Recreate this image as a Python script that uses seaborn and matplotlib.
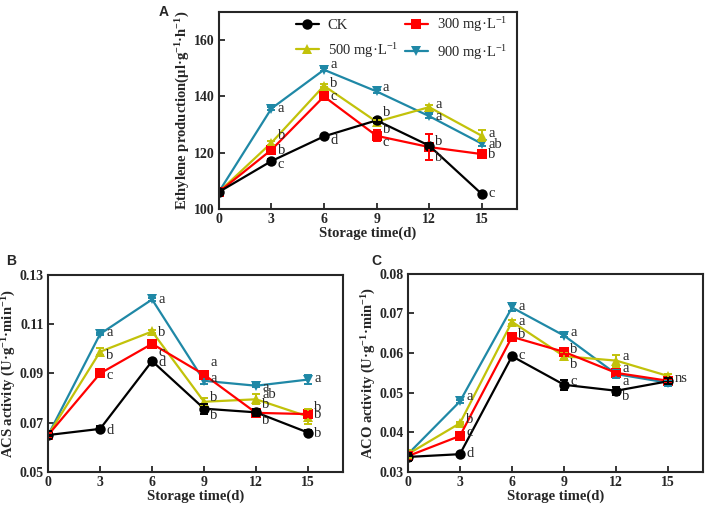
import seaborn as sns
import matplotlib.pyplot as plt
import pandas as pd
import numpy as np
from matplotlib.lines import Line2D

sns.set_style('ticks')
plt.rcParams['font.family'] = ['Liberation Serif', 'DejaVu Serif']
plt.rcParams['mathtext.fontset'] = 'custom'
plt.rcParams['mathtext.rm'] = 'Liberation Serif'
plt.rcParams['mathtext.bf'] = 'Liberation Serif:bold'
plt.rcParams['mathtext.default'] = 'regular'

days = [0, 3, 6, 9, 12, 15]
groups = ['CK', '300', '500', '900']
labels = {'CK': 'CK', '300': '300 mg·L$^{-1}$', '500': '500 mg·L$^{-1}$', '900': '900 mg·L$^{-1}$'}
colors = {'CK': '#000000', '300': '#ff0000', '500': '#c2c20a', '900': '#1f88a6'}
markers = {'CK': 'o', '300': 's', '500': '^', '900': 'v'}

# panel A - ethylene production
eth = {
    'CK':  [106, 117, 125.8, 131.5, 122.5, 105.3],
    '300': [106, 121, 140, 126, 122, 119.5],
    '500': [106, 123.5, 143.8, 131, 136.2, 126],
    '900': [106, 135.7, 149.5, 141.8, 133, 123.2],
}
eth_err = {
    'CK':  [0.8, 0.6, 0.6, 0.8, 1.0, 0.6],
    '300': [0.8, 0.8, 0.8, 2.0, 4.5, 0.6],
    '500': [0.6, 0.6, 0.6, 0.6, 0.6, 2.0],
    '900': [0.6, 0.6, 0.6, 0.6, 0.6, 1.0],
}
eth_let = {
    'CK':  ['', 'c', 'd', 'b', 'b', 'c'],
    '300': ['', 'b', 'c', 'c', 'b', 'b'],
    '500': ['', 'b', 'b', 'b', 'a', 'a'],
    '900': ['', 'a', 'a', 'a', 'a', 'ab'],
}
eth_dy = {
    'CK':  [0, -3, -4, 8, 4, 0],
    '300': [0, -1, 0, -7, -10, 0],
    '500': [0, 7, 2, -8, 3, 2],
    '900': [0, 0, 5, 4, 0, -1],
}

# panel B - ACS activity
acs = {
    'CK':  [0.065, 0.0675, 0.095, 0.0757, 0.0742, 0.066],
    '300': [0.065, 0.090, 0.102, 0.0895, 0.074, 0.0735],
    '500': [0.065, 0.0988, 0.107, 0.0785, 0.0795, 0.0725],
    '900': [0.065, 0.106, 0.120, 0.087, 0.085, 0.0875],
}
acs_err = {
    'CK':  [0.0015, 0.001, 0.001, 0.002, 0.0015, 0.001],
    '300': [0.001, 0.0005, 0.0005, 0.001, 0.0015, 0.001],
    '500': [0.001, 0.0015, 0.0005, 0.0015, 0.002, 0.003],
    '900': [0.001, 0.0005, 0.0005, 0.0015, 0.0005, 0.002],
}
acs_let = {
    'CK':  ['', 'd', 'd', 'b', 'b', 'b'],
    '300': ['', 'c', 'c', 'a', 'b', 'b'],
    '500': ['', 'b', 'b', 'b', 'ab', 'b'],
    '900': ['', 'a', 'a', 'a', 'a', 'a'],
}
acs_dy = {
    'CK':  [0, -2, -1, -7, -8, -1],
    '300': [0, -2, -9, 12, 8, 7],
    '500': [0, -4, -1, 4, 5, 2],
    '900': [0, 1, 0, 2, -2, 1],
}

# panel C - ACO activity
aco = {
    'CK':  [0.0338, 0.0345, 0.0592, 0.052, 0.0505, 0.0529],
    '300': [0.034, 0.0391, 0.0641, 0.0603, 0.055, 0.053],
    '500': [0.0345, 0.0423, 0.0679, 0.0592, 0.0581, 0.0542],
    '900': [0.0345, 0.0478, 0.0715, 0.0644, 0.0547, 0.0525],
}
aco_err = {
    'CK':  [0.001, 0.0003, 0.0003, 0.0012, 0.001, 0.0008],
    '300': [0.001, 0.0003, 0.0008, 0.0005, 0.0005, 0.0005],
    '500': [0.001, 0.0003, 0.0005, 0.0008, 0.0015, 0.0005],
    '900': [0.001, 0.0003, 0.0008, 0.0003, 0.001, 0.0008],
}
aco_let = {
    'CK':  ['', 'd', 'c', 'c', 'b', 'ns'],
    '300': ['', 'c', 'b', 'b', 'a', ''],
    '500': ['', 'b', 'a', 'b', 'a', ''],
    '900': ['', 'a', 'a', 'a', 'a', ''],
}
aco_dy = {
    'CK':  [0, 1, 1, 3, -6, 3],
    '300': [0, 3, 2, 2, 4, 0],
    '500': [0, 4, 0, -8, 4, 0],
    '900': [0, 5, 1, 3, -7, 0],
}


def to_df(vals, errs):
    rows = []
    for g in groups:
        for d, v, e in zip(days, vals[g], errs[g]):
            rows.append([g, d, v, e])
    return pd.DataFrame(rows, columns=['group', 'day', 'value', 'err'])


def draw_panel(ax, vals, errs, lets, dys, ylim, yticks, yfmt, ylabel):
    df = to_df(vals, errs)
    order = ['900', '500', '300', 'CK']
    sns.lineplot(data=df, x='day', y='value', hue='group', style='group',
                 hue_order=order, style_order=order, palette=colors,
                 markers=markers, dashes=False, markersize=7.5, linewidth=1.6,
                 markeredgewidth=0, legend=False, ax=ax)
    for g in order:
        sub = df[df.group == g]
        ax.errorbar(sub['day'], sub['value'], yerr=sub['err'], fmt='none',
                    ecolor=colors[g], elinewidth=1.4, capsize=3, capthick=1.4)
        for d, v, t, dy in zip(days, vals[g], lets[g], dys[g]):
            if t:
                ax.annotate(t, (d, v), xytext=(4.5, dy * 0.72), textcoords='offset points',
                            ha='left', va='center', fontsize=10.5)
    ax.set_xlim(0, 17)
    ax.set_xticks(days)
    ax.set_ylim(*ylim)
    ax.set_yticks(yticks)
    ax.set_yticklabels([yfmt.format(t) for t in yticks])
    ax.tick_params(direction='in', length=4, width=1.3, labelsize=10, pad=3)
    for lab in ax.get_xticklabels() + ax.get_yticklabels():
        lab.set_fontweight('bold')
    for s in ax.spines.values():
        s.set_linewidth(1.5)
    ax.set_xlabel('Storage time(d)', fontsize=10.5, fontweight='bold', labelpad=0)
    ax.set_ylabel(ylabel, fontsize=10.5, fontweight='bold', labelpad=1)


fig = plt.figure(figsize=(7.08, 5.07), dpi=100)
axA = fig.add_axes([0.309, 0.588, 0.421, 0.388])
axB = fig.add_axes([0.068, 0.069, 0.416, 0.389])
axC = fig.add_axes([0.576, 0.069, 0.417, 0.391])

draw_panel(axA, eth, eth_err, eth_let, eth_dy, (100, 170), [100, 120, 140, 160], '{:.0f}',
           r'Ethylene production(μl·g$\mathbf{^{-1}}$·h$\mathbf{^{-1}}$)')
draw_panel(axB, acs, acs_err, acs_let, acs_dy, (0.05, 0.13), [0.05, 0.07, 0.09, 0.11, 0.13], '{:.2f}',
           r'ACS activity (U·g$\mathbf{^{-1}}$·min$\mathbf{^{-1}}$)')
draw_panel(axC, aco, aco_err, aco_let, aco_dy, (0.03, 0.08), [0.03, 0.04, 0.05, 0.06, 0.07, 0.08], '{:.2f}',
           r'ACO activity (U·g$\mathbf{^{-1}}$·min$\mathbf{^{-1}}$)')

# legend fills column-wise: CK / 500 on the left, 300 / 900 on the right
leg_order = ['CK', '500', '300', '900']
handles = [Line2D([], [], color=colors[g], marker=markers[g], markersize=7.5,
                  markeredgewidth=0, linewidth=1.6) for g in leg_order]
axA.legend(handles, [labels[g] for g in leg_order], ncol=2, frameon=False,
           loc='upper right', bbox_to_anchor=(1.0, 1.035), fontsize=10.5,
           handlelength=1.6, columnspacing=0.45, handletextpad=0.6,
           labelspacing=0.62, borderaxespad=0.25)

fig.text(0.224, 0.968, 'A', fontsize=10, fontweight='bold', family='Liberation Sans')
fig.text(0.008, 0.478, 'B', fontsize=10, fontweight='bold', family='Liberation Sans')
fig.text(0.525, 0.478, 'C', fontsize=10, fontweight='bold', family='Liberation Sans')

fig.savefig('out.png', dpi=100)
